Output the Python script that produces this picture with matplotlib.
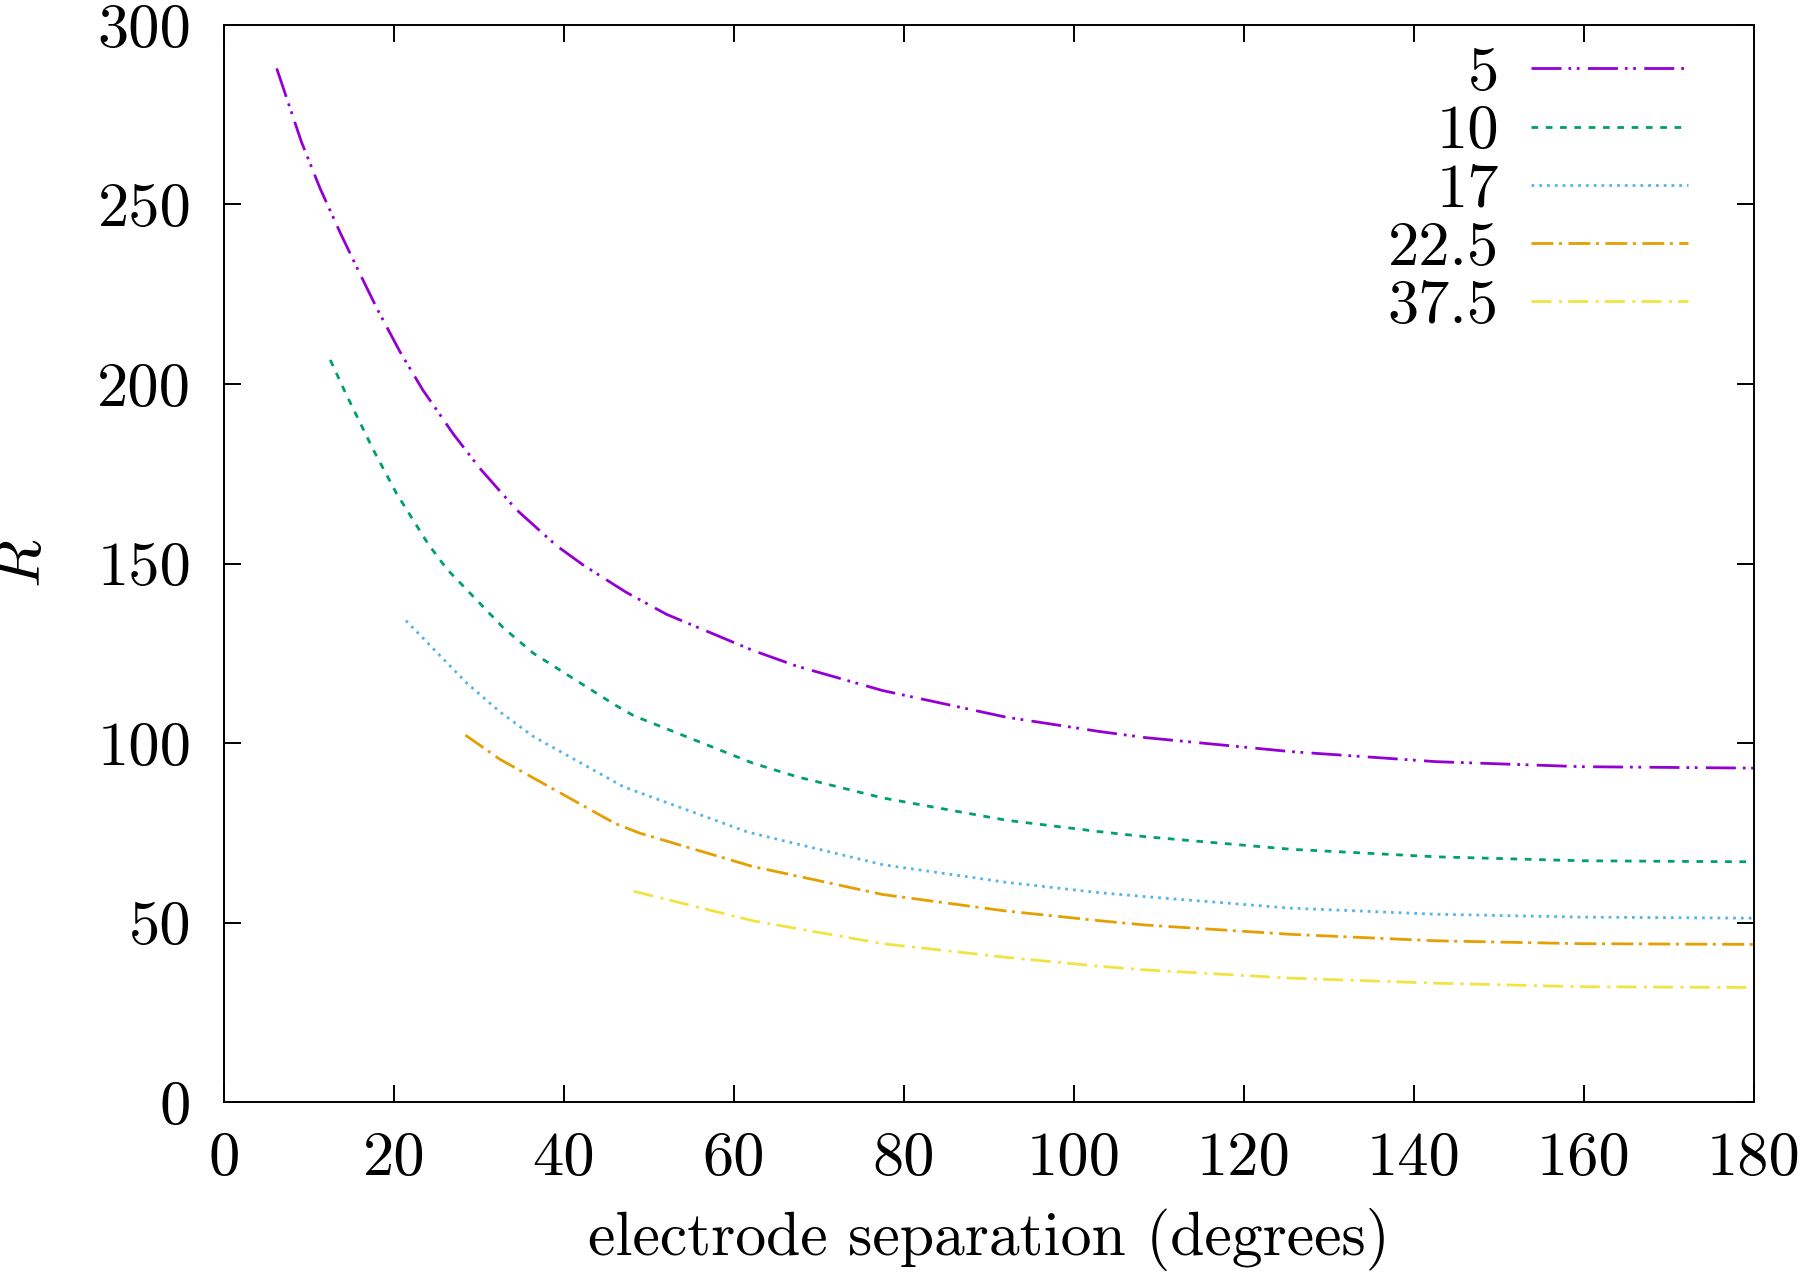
import matplotlib
matplotlib.use("Agg")
import matplotlib.pyplot as plt

plt.rcParams['font.family'] = 'serif'
plt.rcParams['font.serif'] = ['cmr10', 'DejaVu Serif']
plt.rcParams['mathtext.fontset'] = 'cm'
plt.rcParams['axes.formatter.use_mathtext'] = True
plt.rcParams['lines.scale_dashes'] = False

# ---- data ----
labels = ["5", "10", "17", "22.5", "37.5"]

x_5 = [6.2, 9.1, 11.3, 13.7, 15.6, 18.0, 20.7, 23.4, 27.0, 30.1, 34.4, 39.1, 42.3,
       47.3, 52.1, 62.2, 67.4, 77.5, 92.0, 103.0, 108.4, 125.5, 142.6, 159.7, 180]
r_5 = [287.9, 267.5, 254.5, 242.0, 232.6, 221.0, 209.0, 198.3, 186.0, 176.5, 165.0, 155.0, 149.5,
       142.0, 135.8, 125.8, 121.4, 114.6, 107.2, 103.2, 101.5, 97.6, 94.8, 93.4, 93.0]

x_10 = [12.5, 14.4, 17.6, 20.3, 24.0, 26.2, 32.9, 36.4, 46.0, 48.2, 62.2, 67.4, 77.5,
        92.0, 103.0, 108.4, 125.5, 142.6, 159.7, 180]
r_10 = [206.7, 197.0, 181.5, 169.5, 155.5, 148.5, 132.0, 125.0, 110.6, 107.6, 94.4, 90.6, 84.7,
        78.5, 75.3, 73.9, 70.4, 68.3, 67.2, 66.9]

x_17 = [21.4, 28.6, 32.5, 36.4, 47.0, 61.6, 77.5, 92.0, 103.0, 108.4, 125.5, 142.6, 159.7, 180]
r_17 = [134.1, 116.6, 108.6, 101.8, 87.8, 75.2, 66.1, 61.2, 58.3, 57.2, 54.0, 52.3, 51.5, 51.2]

x_22 = [28.4, 32.5, 46.0, 48.9, 62.2, 77.5, 92.0, 103.0, 108.4, 125.5, 142.6, 159.7, 180]
r_22 = [102.2, 95.4, 77.6, 74.9, 65.6, 57.8, 53.2, 50.5, 49.3, 46.7, 44.9, 44.1, 43.9]

x_37 = [48.2, 62.2, 77.5, 92.0, 103.0, 108.4, 125.5, 142.6, 159.7, 180]
r_37 = [58.7, 50.5, 44.1, 40.3, 37.8, 36.8, 34.5, 33.1, 32.1, 31.9]

xticks = [0, 20, 40, 60, 80, 100, 120, 140, 160, 180]
yticks = [0, 50, 100, 150, 200, 250, 300]

series = [(x_5, r_5), (x_10, r_10), (x_17, r_17), (x_22, r_22), (x_37, r_37)]
colors = ["#9400D3", "#009E73", "#56B4E9", "#E69F00", "#F0E442"]
styles = [
    (0, (21.6, 5.0, 2.0, 4.0, 2.0, 6.0)),
    (0, (4.8, 5.5)),
    (0, (2.0, 3.6)),
    (0, (15.8, 4.0, 2.2, 4.6)),
    (0, (14.4, 5.4, 2.2, 4.4)),
]

fig = plt.figure(figsize=(18, 12.78), dpi=100)
ax = fig.add_axes([224 / 1800, 1 - 1102 / 1278, 1530 / 1800, 1077 / 1278])

for (xs, rs), c, ls, lab in zip(series, colors, styles, labels):
    ax.plot(xs, rs, color=c, linestyle=ls, linewidth=2.0, label=lab,
            dash_capstyle='butt', solid_capstyle='butt')

ax.set_xlim(0, 180)
ax.set_ylim(0, 300)
ax.set_xticks(xticks)
ax.set_yticks(yticks)
ax.set_xticklabels([str(t) for t in xticks])
ax.set_yticklabels([str(t) for t in yticks])

for s in ax.spines.values():
    s.set_linewidth(1.4)
ax.tick_params(axis='both', which='both', direction='in', length=12, width=1.4,
               top=True, right=True, labelsize=45)
ax.tick_params(axis='x', pad=21.5)
ax.tick_params(axis='y', pad=23.5)

ax.set_xlabel("electrode separation (degrees)", fontsize=44.4)
ax.xaxis.set_label_coords(0.5, -0.098)
ax.xaxis.label.set_va('top')
ax.set_ylabel("$R$", fontsize=45)
ax.yaxis.set_label_coords(-0.112, 0.5)

leg = ax.legend(loc='upper right', bbox_to_anchor=(0.9568, 0.980), frameon=False,
                markerfirst=False, fontsize=45, handlelength=2.505, handletextpad=0.52,
                labelspacing=0.039, borderpad=0, borderaxespad=0)

fig.savefig("out.png", dpi=100)
